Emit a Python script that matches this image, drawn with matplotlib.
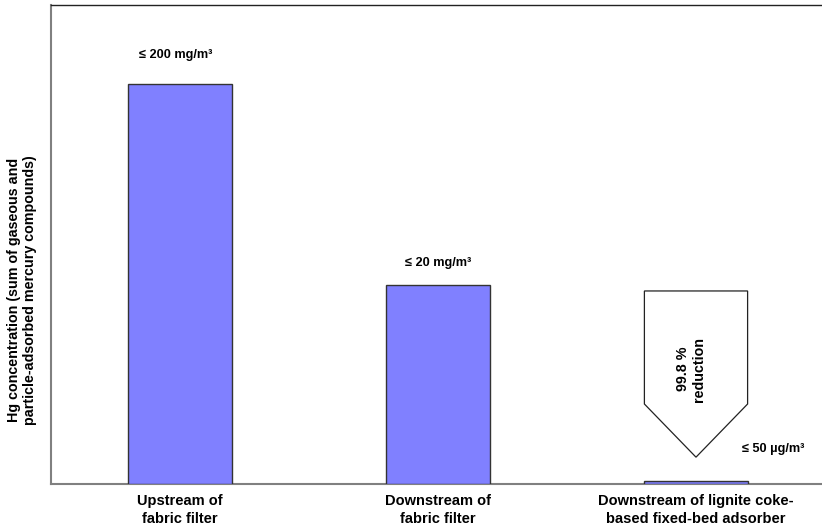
import matplotlib
matplotlib.use("Agg")
import matplotlib.pyplot as plt
from matplotlib.patches import Polygon

plt.rcParams['font.family'] = ['Liberation Sans', 'DejaVu Sans']
plt.rcParams['font.weight'] = 'bold'

categories = ["Upstream of\nfabric filter", "Downstream of\nfabric filter",
              "Downstream of lignite coke-\nbased fixed-bed adsorber"]
values = [83.5, 41.5, 0.7]          # relative bar heights (schematic)
value_labels = ["\u2264 200 mg/m\u00b3", "\u2264 20 mg/m\u00b3", "\u2264 50 \u00b5g/m\u00b3"]
ylabel = "Hg concentration (sum of gaseous and\nparticle-adsorbed mercury compounds)"
arrow_text = "99.8 %\nreduction"

fig = plt.figure(figsize=(8.22, 5.29), dpi=100)
W, H = 822, 529
ax = fig.add_axes([51 / W, 1 - 484 / H, (825 - 51) / W, (484 - 5) / H])

x = list(range(len(categories)))
ax.bar(x, values, width=0.4, color="#8080FF", edgecolor="#333333", linewidth=1.0, zorder=3)
ax.set_xlim(-0.5, 2.5)
ax.set_ylim(0, 100)

ax.set_xticks(x)
ax.set_xticklabels(categories, fontsize=10.5, fontweight='bold', linespacing=1.3)
ax.tick_params(axis='x', length=0, pad=7.5)
ax.set_yticks([])

for s in ['left', 'bottom']:
    ax.spines[s].set_color('#808080')
    ax.spines[s].set_linewidth(1.5)
ax.spines['top'].set_color('#222222')
ax.spines['top'].set_linewidth(1.0)
ax.spines['right'].set_visible(False)

# value labels
vfs = 9.2
ax.text(-0.015, 89.6, value_labels[0], ha='center', va='center', fontsize=vfs, fontweight='bold')
ax.text(1, 46.1, value_labels[1], ha='center', va='center', fontsize=vfs, fontweight='bold')
ax.text(2.3, 7.4, value_labels[2], ha='center', va='center', fontsize=vfs, fontweight='bold')

# arrow shape
ytop, yshoulder, ytip = 40.3, 16.7, 5.6
poly = Polygon([[-0.2 + 2, ytop], [0.2 + 2, ytop], [0.2 + 2, yshoulder], [2, ytip],
                [-0.2 + 2, yshoulder]], closed=True, facecolor='white',
               edgecolor='#222222', linewidth=0.9, zorder=4)
ax.add_patch(poly)
ax.text(1.98, 24.0, arrow_text, rotation=90, ha='center', va='center',
        fontsize=10.3, fontweight='bold', zorder=5, multialignment='center')

fig.text(22 / W, 1 - 290 / H, ylabel, rotation=90, ha='center', va='center',
         fontsize=10.3, fontweight='bold', multialignment='center')

fig.savefig("out.png", dpi=100)
